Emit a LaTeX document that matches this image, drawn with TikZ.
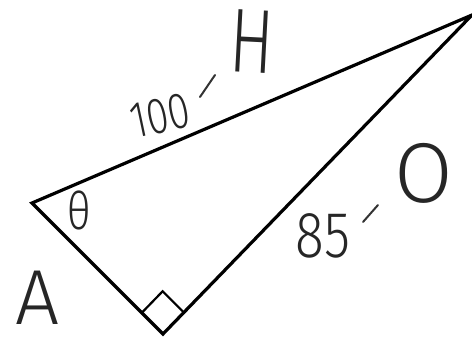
\documentclass[tikz,border=0pt]{standalone}
\usepackage{fontspec}
\newfontfamily\hand{Fira Sans Light}
\usetikzlibrary{calc}
\tikzset{
  side/.style={line width=3.2pt, line join=miter},
  rightmark/.style={line width=2.2pt, line join=miter},
  label/.style={inner sep=0pt, outer sep=0pt, anchor=center, text=black!85},
  tick/.style={line width=2pt, line cap=round, draw=black!80}
}
\newcommand{\hs}[1]{\hand\fontsize{#1}{#1}\selectfont}
\begin{document}
\begin{tikzpicture}[x=1pt,y=-1pt]
\useasboundingbox (0,0) rectangle (472,337);
% vertices
\coordinate (L) at (32,203);
\coordinate (B) at (163,334);
\coordinate (T) at (472,15);
% triangle
\draw[side] (L) -- (B) -- (T) -- cycle;
% right-angle mark
\coordinate (R1) at ($(B)!30pt!(L)$);
\coordinate (R3) at ($(B)!30pt!(T)$);
\coordinate (R2) at ($(R1)+(R3)-(B)$);
\draw[rightmark] (R1) -- (R2) -- (R3);
% labels
\node[label, rotate=12, xscale=0.78] (hyp) at (160,116) {\hs{51}100};
\coordinate (t1a) at (200,97);
\coordinate (t1b) at (215,75);
\draw[tick] (t1a) -- (t1b);
\node[label, rotate=-3, xscale=0.72] (H) at (252,42) {\hs{91}H};
\node[label, xscale=0.8] (th) at (79,210) {\hs{52}θ};
\node[label, xscale=0.82] (opp) at (323,236) {\hs{65}85};
\coordinate (t2a) at (363,222);
\coordinate (t2b) at (378,205);
\draw[tick] (t2a) -- (t2b);
\node[label] (O) at (424,173) {\hs{85}O};
\node[label] (A) at (38,298) {\hs{78}A};
\end{tikzpicture}
\end{document}
